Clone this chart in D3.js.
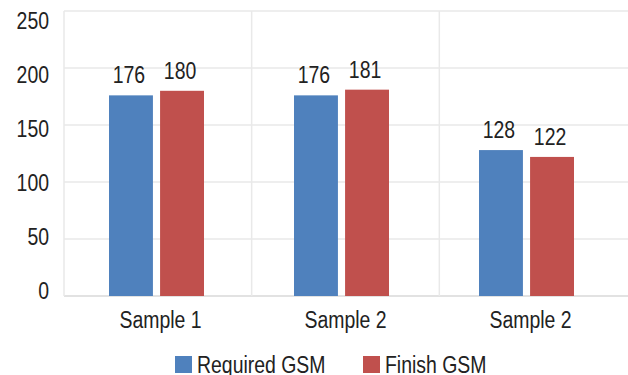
<!DOCTYPE html>
<html><head><meta charset="utf-8">
<script src="https://cdn.jsdelivr.net/npm/d3@7"></script>
<style>
body{margin:0;background:#fff;}
text{font-family:"Liberation Sans Narrow","Liberation Sans",Arial,sans-serif;fill:#222;}
</style></head>
<body><svg id="c" width="628" height="375"></svg>
<script>
const categories = ["Sample 1", "Sample 2", "Sample 2"];
const seriesNames = ["Required GSM", "Finish GSM"];
const required = [176, 176, 128];
const finish = [180, 181, 122];
const yTicks = [0, 50, 100, 150, 200, 250];
const colors = ["#4F81BD", "#C0504D"];

const svg = d3.select("#c");
const W = 628;
const SX = 0.81, FS = 24;
function label(parent, x, y, txt, anchor) {
  parent.append("text")
    .attr("transform", `translate(${x},${y}) scale(${SX},1)`)
    .attr("text-anchor", anchor || "middle").attr("font-size", FS).text(txt);
}

const y = d3.scaleLinear().domain([0, 250]).range([296, 11]);
const yLab = d3.scaleLinear().domain([0, 250]).range([299, 29]);
const xGrid = d3.scaleBand().domain(d3.range(categories.length)).range([64, 627]);
const xBar = d3.scaleBand().domain(d3.range(categories.length)).range([64, 619]);
const xLab = d3.scaleBand().domain(d3.range(categories.length)).range([68, 623]);
const x1 = d3.scaleBand().domain([0, 1]).range([0, 95]).paddingInner(0.14);

// grid
svg.append("g").selectAll("line").data(yTicks).join("line")
  .attr("x1", 64).attr("x2", W)
  .attr("y1", d => y(d)).attr("y2", d => y(d))
  .attr("stroke", d => d === 0 ? "#d9d9d9" : "#e9e9e9").attr("stroke-width", 1.5);
svg.append("g").selectAll("line").data(d3.range(categories.length)).join("line")
  .attr("x1", d => xGrid(d)).attr("x2", d => xGrid(d))
  .attr("y1", y(250)).attr("y2", y(0))
  .attr("stroke", "#e9e9e9").attr("stroke-width", 1.5);

// y labels
const gy = svg.append("g");
yTicks.forEach(t => label(gy, 49, yLab(t), t, "end"));

const series = [required, finish];
const gb = svg.append("g");
categories.forEach((c, i) => {
  const x0 = xBar(i) + xBar.bandwidth() / 2 - 47.5;
  series.forEach((s, j) => {
    gb.append("rect").attr("x", x0 + x1(j)).attr("width", x1.bandwidth())
      .attr("y", y(s[i])).attr("height", y(0) - y(s[i])).attr("fill", colors[j]);
    label(gb, x0 + x1(j) + x1.bandwidth() / 2 - 2, y(s[i]) - 12, s[i]);
  });
  label(gb, xLab(i) + xLab.bandwidth() / 2, 328, c);
});

// legend
const lx = [175, 363];
const gl = svg.append("g");
seriesNames.forEach((n, j) => {
  gl.append("rect").attr("x", lx[j]).attr("y", 356).attr("width", 17).attr("height", 17).attr("fill", colors[j]);
  label(gl, lx[j] + 22, 373, n, "start");
});
</script></body></html>
